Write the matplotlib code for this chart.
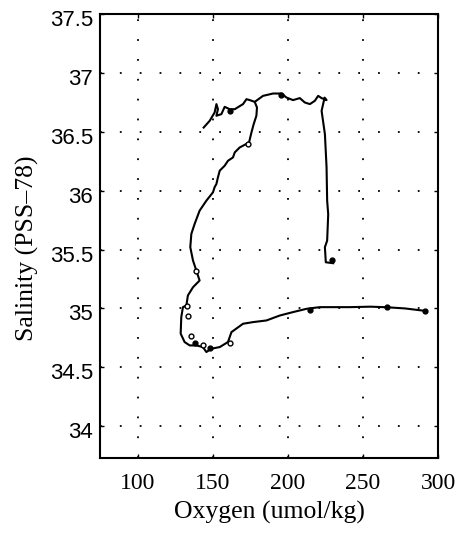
import matplotlib
matplotlib.use('Agg')
import matplotlib.pyplot as plt
from matplotlib.transforms import ScaledTranslation

# main branch: top squiggle -> junction -> down -> bottom -> right
oxy_main = [144, 148, 151.3, 152.5, 153.5, 152.5, 155.8, 158, 161.3, 164.7, 170.2, 172.5, 174.7,
            178.0, 179.5, 179.1, 177.3, 175.8, 174.2, 168, 164.7, 163.5, 160.2, 158, 154.7, 153.5,
            152.5, 151.3, 150.2, 145.8, 141.3, 138, 135.8, 135.1, 136.9, 139.1, 141.3, 136.9, 133.5,
            132.5, 130.2, 129.1, 128.7, 131.3, 134.7, 139.1, 143.5, 145.8, 149.1, 154.7, 160.2,
            162.5, 170.2, 176.9, 185.8, 194.7, 203.5, 212.5, 221.3, 241.3, 255, 266, 278, 291]
sal_main = [36.536, 36.593, 36.664, 36.735, 36.692, 36.636, 36.65, 36.712, 36.692, 36.692, 36.735,
            36.777, 36.769, 36.754, 36.706, 36.636, 36.565, 36.494, 36.409, 36.367, 36.325, 36.282,
            36.254, 36.212, 36.17, 36.113, 36.057, 36.03, 35.986, 35.915, 35.83, 35.718, 35.633,
            35.52, 35.407, 35.322, 35.237, 35.18, 35.11, 35.025, 35.011, 34.926, 34.786, 34.715,
            34.686, 34.686, 34.672, 34.63, 34.658, 34.672, 34.715, 34.799, 34.87, 34.884, 34.898,
            34.94, 34.969, 34.997, 35.011, 35.011, 35.015, 35.01, 35.0, 34.98]

# upper branch: junction -> right along the top -> down at ~225
oxy_top = [178.0, 183.5, 190.2, 195.8, 199.1, 203.5, 208, 211.3, 214.7, 218, 220.2, 222.5, 225.8,
           224.5, 222.5, 224.7, 225.8, 226.2, 226.9, 226.2, 224.7, 225.3, 230.2]
sal_top = [36.754, 36.805, 36.825, 36.825, 36.791, 36.769, 36.786, 36.749, 36.735, 36.763, 36.805,
           36.786, 36.769, 36.79, 36.678, 36.48, 36.2, 35.915, 35.8, 35.576, 35.52, 35.392, 35.384]

# station markers
oxy_open = [173.5, 139.1, 132.9, 133.6, 135.8, 143.5, 161.3]
sal_open = [36.40, 35.32, 35.02, 34.94, 34.77, 34.69, 34.71]
oxy_fill = [161.3, 195.8, 138, 148, 214.7, 229.2, 266, 291]
sal_fill = [36.68, 36.81, 34.71, 34.66, 34.99, 35.41, 35.01, 34.98]

xticks = [100, 150, 200, 250, 300]
yticks = [34, 34.5, 35, 35.5, 36, 36.5, 37, 37.5]
ytick_labels = ['34', '34.5', '35', '35.5', '36', '36.5', '37', '37.5']

fig = plt.figure(figsize=(4.71, 5.33), dpi=100)
ax = fig.add_axes([0.2123, 0.1407, 0.7177, 0.833])

ax.plot(oxy_main, sal_main, color='black', linewidth=1.5)
ax.plot(oxy_top, sal_top, color='black', linewidth=1.5)
ax.plot(oxy_open, sal_open, 'o', markersize=3.5, markerfacecolor='white',
        markeredgecolor='black', markeredgewidth=1.0)
ax.plot(oxy_fill, sal_fill, 'o', markersize=3.5, color='black')

ax.set_xlim(75, 300)
ax.set_ylim(33.73, 37.5)
ax.set_xticks(xticks)
ax.set_yticks(yticks)
ax.set_xticklabels([str(t) for t in xticks], family='Liberation Serif', fontsize=17)
ax.set_yticklabels(ytick_labels, family='Liberation Sans', fontsize=16)
ax.tick_params(direction='in', length=3, top=True, right=True, width=1)
ax.tick_params(axis='x', pad=10.5)
ax.tick_params(axis='y', pad=5)
# y labels sit a little below their ticks in the original
for lab in ax.get_yticklabels():
    lab.set_transform(lab.get_transform() + ScaledTranslation(0, -4 / 100, fig.dpi_scale_trans))
ax.grid(True, color='black', linestyle=(0, (1, 10)), linewidth=1.3)
for s in ax.spines.values():
    s.set_linewidth(1.5)

ax.set_xlabel('Oxygen (umol/kg)', family='Liberation Serif', fontsize=18.5)
ax.set_ylabel('Salinity (PSS\u201378)', family='Liberation Serif', fontsize=18.5)
ax.xaxis.set_label_coords(0.5, -0.122)
ax.yaxis.set_label_coords(-0.216, 0.473)
ax.xaxis.label.set_va('center')
ax.yaxis.label.set_va('center')

fig.savefig('out.png', dpi=100)
